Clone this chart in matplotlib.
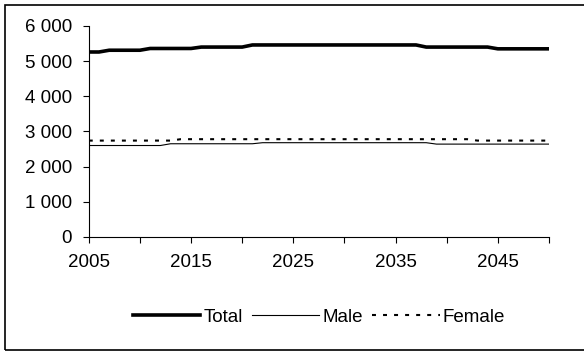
import matplotlib.pyplot as plt
import numpy as np
from matplotlib.patches import Rectangle
from matplotlib.ticker import FuncFormatter, MultipleLocator

plt.rcParams['font.family'] = ['Liberation Sans', 'DejaVu Sans']

years = np.arange(2005, 2051)
total = [5260]*2 + [5310]*4 + [5360]*5 + [5400]*5 + [5460]*17 + [5400]*7 + [5350]*6
male = [2600]*8 + [2650]*9 + [2680]*17 + [2640]*12
female = [2740]*9 + [2780]*29 + [2740]*8

fig = plt.figure(figsize=(5.84, 3.51), dpi=100)
ax = fig.add_axes([0.152, 0.325, 0.788, 0.601])

ax.plot(years, total, 'k', lw=2.6, label='Total')
ax.plot(years, male, 'k', lw=0.8, label='Male')
ax.plot(years, female, 'k', lw=1.5, linestyle=(0, (1.9, 3.4)), label='Female')

ax.set_xlim(2005, 2050)
ax.set_ylim(0, 6000)
ax.set_yticks(np.arange(0, 6001, 1000))
ax.yaxis.set_major_formatter(FuncFormatter(lambda v, p: '{:,.0f}'.format(v).replace(',', ' ')))
ax.set_xticks(np.arange(2005, 2050, 10))
ax.set_xticks([2010, 2020, 2030, 2040, 2050], minor=True)

for s in ['top', 'right']:
    ax.spines[s].set_visible(False)
for s in ['left', 'bottom']:
    ax.spines[s].set_linewidth(0.8)

ax.tick_params(axis='y', direction='out', length=4, width=0.8, pad=8, labelsize=13.5)
ax.tick_params(axis='x', which='both', direction='out', length=4, width=0.8, pad=8, labelsize=13.5)

ax.legend(loc='center', bbox_to_anchor=(0.5, -0.38), ncol=3, frameon=False,
          fontsize=13.5, handlelength=3.6, handletextpad=0.15, columnspacing=0.5)

fig.patches.append(Rectangle((4.5/584, 1.5/351), 1.1, 345/351, transform=fig.transFigure,
                             fill=False, edgecolor='black', lw=1.2))

plt.savefig('out.png', dpi=100)
